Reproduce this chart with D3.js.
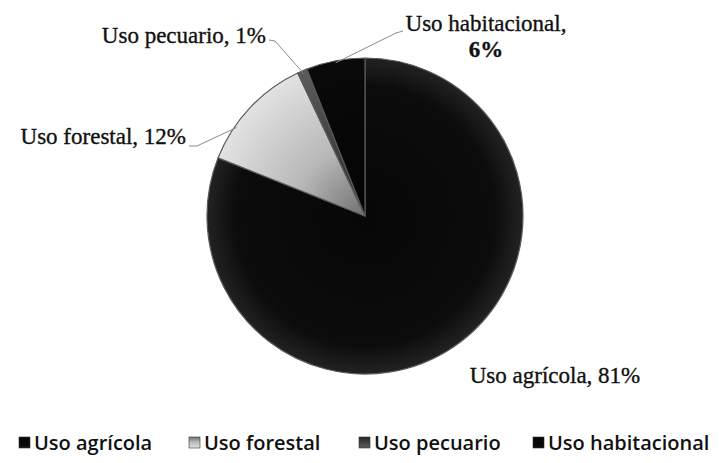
<!DOCTYPE html>
<html>
<head>
<meta charset="utf-8">
<script src="https://cdn.jsdelivr.net/npm/d3@7"></script>
<style>
  body { margin: 0; background: #fff; overflow: hidden; }
  svg { display: block; }
</style>
</head>
<body>
<svg id="main-svg" width="719" height="463"></svg>
<script>
'use strict';

// chart data
const categories = ['Uso agrícola', 'Uso forestal', 'Uso pecuario', 'Uso habitacional'];
const values = [81, 12, 1, 6];
const value_labels = ['81%', '12%', '1%', '6%'];

// label placement (layout only)
const label_pos = [
    {x: 555, y: 383, anchor: 'middle', lines: 1},
    {x: 186, y: 144, anchor: 'end', lines: 1},
    {x: 266, y: 43, anchor: 'end', lines: 1},
    {x: 486, y: 31, anchor: 'middle', lines: 2},
];
const leader = [
    null,
    [[189, 146], [197, 146]],
    [[269, 40], [275, 41]],
    [[403, 31], [396, 33]],
];

const svg = d3.select('#main-svg');
const cx = 365, cy = 216, radius = 158;

const defs = svg.append('defs');

const grad_stops = [
    [['0%', '#070707'], ['82%', '#0c0c0c'], ['100%', '#222']],
    [['0%', '#707070'], ['45%', '#b8b8b8'], ['100%', '#e2e2e2']],
    [['0%', '#262626'], ['100%', '#5c5c5c']],
    [['0%', '#030303'], ['100%', '#0a0a0a']],
];
grad_stops.forEach((stops, i) => {
    const rg = defs.append('radialGradient').attr('id', `g${i}`)
        .attr('gradientUnits', 'userSpaceOnUse')
        .attr('cx', 0).attr('cy', 0).attr('r', radius);
    stops.forEach(s => rg.append('stop').attr('offset', s[0]).attr('stop-color', s[1]));
    const lg = defs.append('linearGradient').attr('id', `lg${i}`)
        .attr('x1', 0).attr('y1', 0).attr('x2', 0).attr('y2', 1);
    stops.forEach(s => lg.append('stop').attr('offset', s[0]).attr('stop-color', s[1]));
});

const pie = d3.pie().sort(null).value(d => d.value);
const arcs = pie(categories.map((c, i) => ({name: c, value: values[i], idx: i})));
const arc = d3.arc().innerRadius(0).outerRadius(radius);

const g = svg.append('g').attr('transform', `translate(${cx},${cy})`);

g.selectAll('path.slice')
    .data(arcs)
    .enter().append('path')
    .attr('class', 'slice')
    .attr('d', arc)
    .attr('fill', d => `url(#g${d.data.idx})`)
    .attr('stroke', '#5a5a5a')
    .attr('stroke-width', 1.2)
    .attr('stroke-linejoin', 'round');

// leader lines
arcs.forEach((d, i) => {
    if (!leader[i]) return;
    let mid = (d.startAngle + d.endAngle) / 2;
    if (i === 1) mid = d.startAngle + (d.endAngle - d.startAngle) * 0.3;
    const px = cx + Math.sin(mid) * (radius - 2);
    const py = cy - Math.cos(mid) * (radius - 2);
    svg.append('path')
        .attr('d', d3.line()(leader[i].concat([[px, py]])))
        .attr('fill', 'none')
        .attr('stroke', '#8a8a8a')
        .attr('stroke-width', 1);
});

// data labels
arcs.forEach((d, i) => {
    const p = label_pos[i];
    const t = svg.append('text')
        .attr('x', p.x).attr('y', p.y)
        .attr('text-anchor', p.anchor)
        .attr('font-family', '"Liberation Serif", "Times New Roman", serif')
        .attr('font-size', 23)
        .attr('fill', '#111')
        .attr('stroke', '#111')
        .attr('stroke-width', 0.35);
    if (p.lines === 2) {
        t.append('tspan').attr('x', p.x).text(categories[i] + ',');
        t.append('tspan').attr('x', p.x).attr('dy', 26).attr('font-weight', 'bold').text(value_labels[i]);
    } else {
        t.text(categories[i] + ', ' + value_labels[i]);
    }
});

// legend
const legend_x = [19, 189, 359, 533];
const legend = svg.append('g');
categories.forEach((c, i) => {
    legend.append('rect')
        .attr('x', legend_x[i]).attr('y', 437)
        .attr('width', 11).attr('height', 11)
        .attr('fill', `url(#lg${i})`)
        .attr('stroke', '#333').attr('stroke-width', 0.6);
    legend.append('text')
        .attr('x', legend_x[i] + 15).attr('y', 450)
        .attr('font-family', '"Open Sans", "Noto Sans", sans-serif')
        .attr('font-size', 20)
        .attr('font-weight', 600)
        .attr('fill', '#111')
        .text(c);
});
</script>
</body>
</html>
